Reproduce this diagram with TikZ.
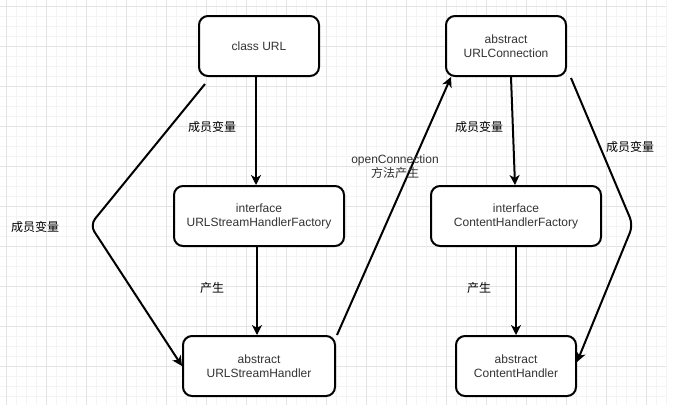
\documentclass[tikz,border=0pt]{standalone}
\usepackage{fontspec}
\setmainfont{Liberation Sans}
\newfontfamily\cjk{Noto Sans CJK SC}
\usetikzlibrary{arrows.meta,calc}
\definecolor{gridmajor}{HTML}{E4E4E4}
\definecolor{gridminor}{HTML}{F4F4F4}
\definecolor{txt}{HTML}{333333}
\tikzset{
  box/.style={draw=black, line width=2pt, rounded corners=9pt, fill=white,
    minimum height=60pt, inner sep=0pt, align=center, text=txt,
    font=\fontsize{12pt}{14pt}\selectfont},
  conn/.style={line width=2pt, -{Stealth[length=10pt,width=10pt,inset=3pt]}},
  lbl/.style={inner sep=0pt, font=\fontsize{12pt}{14pt}\selectfont\cjk, text=black},
  gmin/.style={draw=gridminor, line width=0.8pt},
  gmaj/.style={draw=gridmajor, line width=0.8pt}
}
\begin{document}
\begin{tikzpicture}[x=1pt,y=-1pt]
\useasboundingbox (0,0) rectangle (680,405);
\fill[white] (0,0) rectangle (680,405);
% grid
\foreach \x in {16,26,36,56,66,76,96,106,116,136,146,156,176,186,196,216,226,236,256,266,276,296,306,316,336,346,356,376,386,396,416,426,436,456,466,476,496,506,516,536,546,556,576,586,596,616,626,636,656,666}
  {\draw[gmin] (\x,0) -- (\x,405);}
\foreach \y in {16,26,36,56,66,76,96,106,116,136,146,156,176,186,196,216,226,236,256,266,276,296,306,316,336,346,356,376,386,396}
  {\draw[gmin] (0,\y) -- (666,\y);}
\foreach \x in {6,46,...,646}
  {\draw[gmaj] (\x,0) -- (\x,405);}
\foreach \y in {6,46,...,366}
  {\draw[gmaj] (0,\y) -- (666,\y);}
% boxes
\node[box, minimum width=120pt] (url) at (259,46) {class URL};
\node[box, minimum width=120pt] (ucon) at (506,46) {abstract\\URLConnection};
\node[box, minimum width=170pt] (ushf) at (259,216) {interface\\URLStreamHandlerFactory};
\node[box, minimum width=170pt] (chf) at (516,216) {interface\\ContentHandlerFactory};
\node[box, minimum width=152pt] (ush) at (259,366) {abstract\\URLStreamHandler};
\node[box, minimum width=120pt] (ch) at (516,366) {abstract\\ContentHandler};
% waypoints
\coordinate (wl) at (90,225);
\coordinate (wr) at (633,225);
% connectors
\draw[conn] ([xshift=-3pt]url.south) -- ([xshift=-3pt]ushf.north);
\draw[conn] ([xshift=-2pt]ushf.south) -- ([xshift=-2pt]ush.north);
\draw[conn, rounded corners=8pt] ([xshift=7pt,yshift=-7pt]url.south west) -- (wl) -- (ush.west);
\draw[conn] ([xshift=1pt]ush.north east) -- ([xshift=6pt]ucon.south west);
\draw[conn] ([xshift=5pt]ucon.south) -- ([xshift=-1pt]chf.north);
\draw[conn] (chf.south) -- (ch.north);
\draw[conn, rounded corners=8pt] ([xshift=4pt,yshift=-1pt]ucon.south east) -- (wr) -- ([yshift=4pt]ch.east);
% labels
\node[lbl] (l1) at (212,127) {成员变量};
\node[lbl] (l2) at (35,227) {成员变量};
\node[lbl] (l3) at (212,288) {产生};
\node[lbl, align=center, text=txt] (l4) at (395,167) {{\rmfamily openConnection}\\方法产生};
\node[lbl] (l5) at (479,127) {成员变量};
\node[lbl] (l6) at (630,147) {成员变量};
\node[lbl] (l7) at (479,288) {产生};
\end{tikzpicture}
\end{document}
